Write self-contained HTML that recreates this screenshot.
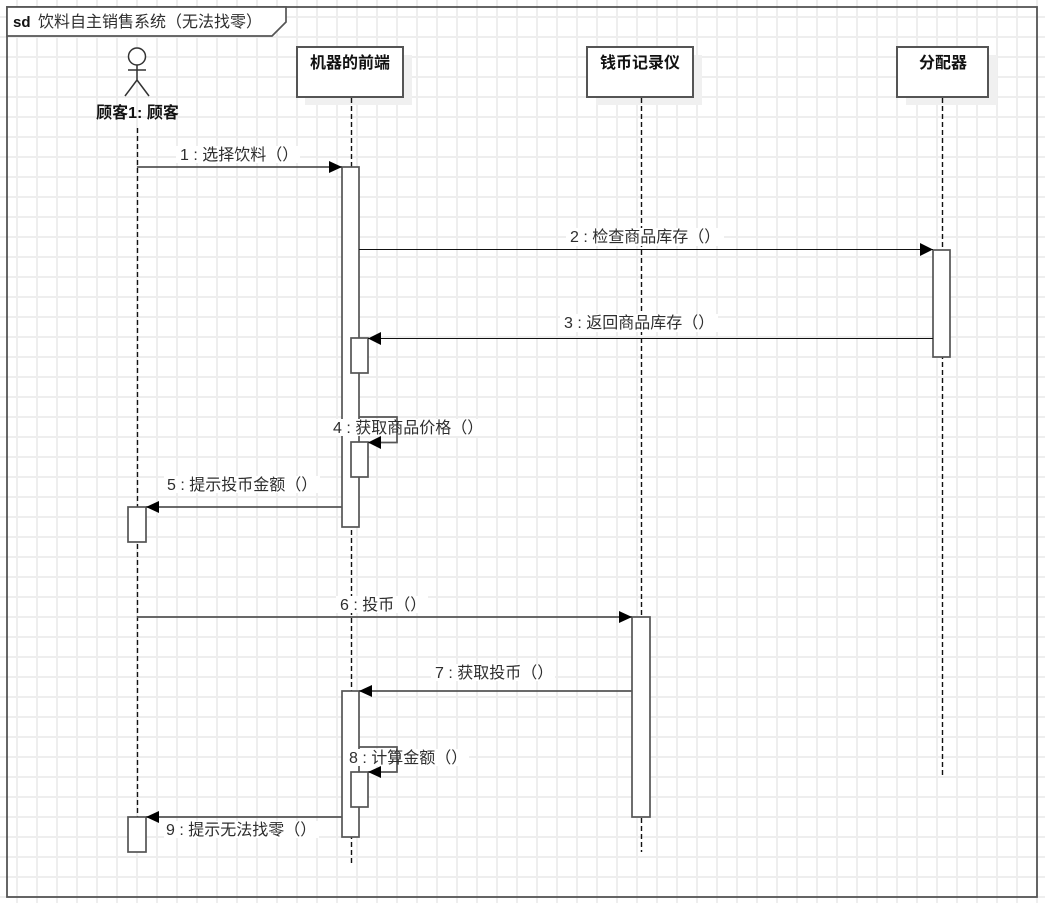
<!DOCTYPE html>
<html>
<head>
<meta charset="utf-8">
<style>
html,body{margin:0;padding:0;background:#fff}
svg{display:block}
text{font-family:"Liberation Sans","Noto Sans CJK SC",sans-serif;font-size:16px;fill:#2e2e2e;text-spacing-trim:space-all}
.b{font-weight:bold;fill:#111}
.box{fill:#fff;stroke:#555;stroke-width:2}
.act{fill:#fff;stroke:#555;stroke-width:1.7}
.ll{stroke:#111;stroke-width:1.4;stroke-dasharray:5 3;fill:none}
.m{stroke:#555;stroke-width:1.7;fill:none}
.k{stroke:#111;stroke-width:1;fill:none}
.h{fill:#000;stroke:none}
.sh{fill:#f0f0f0}
</style>
</head>
<body>
<svg width="1045" height="903" viewBox="0 0 1045 903" xmlns="http://www.w3.org/2000/svg">
<defs>
<pattern id="g" width="20" height="20" patternUnits="userSpaceOnUse" x="7" y="7">
<path d="M10 0V20M0 10H20" stroke="#eee" stroke-width="2" fill="none"/>
</pattern>
</defs>
<rect width="1045" height="903" fill="url(#g)"/>

<!-- frame -->
<rect x="7" y="7" width="1030" height="890" fill="none" stroke="#555" stroke-width="1.8"/>
<path d="M7 7H286V22L272 36H7Z" fill="#fff" stroke="#555" stroke-width="1.7"/>
<text x="13" y="27" class="b" style="font-size:15px">sd</text>
<text x="38" y="27">饮料自主销售系统（无法找零）</text>

<!-- actor -->
<circle cx="137" cy="56.500" r="8.500" fill="#fff" stroke="#333" stroke-width="1.500"/>
<path d="M137 65V80M128 70H146M137 80L125 96M137 80L149 96" fill="none" stroke="#333" stroke-width="1.500"/>
<text x="137.500" y="118" text-anchor="middle" class="b">顾客1: 顾客</text>

<!-- lifeline heads -->
<rect class="sh" x="305" y="55" width="107" height="50"/>
<rect class="box" x="297" y="47" width="106" height="50"/>
<text x="350" y="68" text-anchor="middle" class="b">机器的前端</text>

<rect class="sh" x="596" y="55" width="106" height="50"/>
<rect class="box" x="587" y="47" width="106" height="50"/>
<text x="640" y="68" text-anchor="middle" class="b">钱币记录仪</text>

<rect class="sh" x="906" y="55" width="91" height="50"/>
<rect class="box" x="897" y="47" width="91" height="50"/>
<text x="943" y="68" text-anchor="middle" class="b">分配器</text>

<!-- lifelines -->
<path class="ll" d="M137.500 128V817"/>
<path class="ll" d="M351.500 98V866"/>
<path class="ll" d="M641.500 98V852"/>
<path class="ll" d="M942.500 98V777"/>

<!-- activations -->
<rect class="act" x="342" y="167" width="17" height="360"/>
<rect class="act" x="351" y="338" width="17" height="35"/>
<rect class="act" x="351" y="442" width="17" height="35"/>
<rect class="act" x="128" y="507" width="18" height="35"/>
<rect class="act" x="933" y="250" width="17" height="107"/>
<rect class="act" x="632" y="617" width="18" height="200"/>
<rect class="act" x="342" y="691" width="17" height="146"/>
<rect class="act" x="351" y="772" width="17" height="35"/>
<rect class="act" x="128" y="817" width="18" height="35"/>

<!-- label backgrounds -->
<g fill="#fff">
<rect x="176" y="146" width="124" height="17"/>
<rect x="566" y="228" width="158" height="18"/>
<rect x="560" y="314" width="158" height="18"/>
<rect x="331" y="419" width="155" height="17"/>
<rect x="164" y="476" width="156" height="17"/>
<rect x="336" y="596" width="92" height="17"/>
<rect x="431" y="664" width="124" height="17"/>
<rect x="347" y="749" width="122" height="17"/>
<rect x="164" y="821" width="155" height="17"/>
</g>

<!-- messages -->
<path class="m" d="M137 167H342"/>
<path class="h" d="M329 161L342 167L329 173Z"/>
<path class="k" d="M359 249.500H933"/>
<path class="h" d="M920 243L933 249.500L920 256Z"/>
<path class="k" d="M933 338.500H368"/>
<path class="h" d="M381 332L368 338.500L381 345Z"/>
<path class="m" d="M359 417H397V442.500H368"/>
<path class="h" d="M381 436L368 442.500L381 449Z"/>
<path class="m" d="M342 507H146"/>
<path class="h" d="M159 501L146 507L159 513Z"/>
<path class="m" d="M137 617H632"/>
<path class="h" d="M619 611L632 617L619 623Z"/>
<path class="m" d="M632 691H359"/>
<path class="h" d="M372 685L359 691L372 697Z"/>
<path class="m" d="M359 747H397V772H368"/>
<path class="h" d="M381 766L368 772L381 778Z"/>
<path class="m" d="M342 817H146"/>
<path class="h" d="M159 811L146 817L159 823Z"/>

<!-- labels -->
<text x="180" y="160">1 : 选择饮料（）</text>
<text x="570" y="242">2 : 检查商品库存（）</text>
<text x="564" y="328">3 : 返回商品库存（）</text>
<text x="333" y="433">4 : 获取商品价格（）</text>
<text x="167" y="490">5 : 提示投币金额（）</text>
<text x="340" y="610">6 : 投币（）</text>
<text x="435" y="678">7 : 获取投币（）</text>
<text x="349" y="763">8 : 计算金额（）</text>
<text x="166" y="835">9 : 提示无法找零（）</text>
</svg>
</body>
</html>
